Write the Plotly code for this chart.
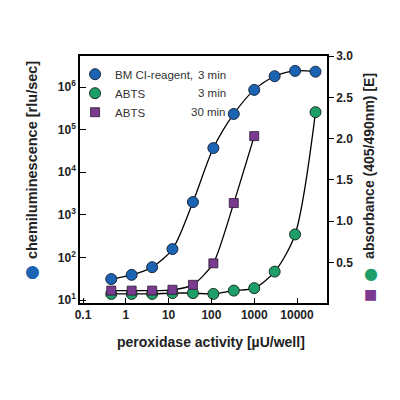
import plotly.graph_objects as go

# peroxidase activity [uU/well], 1:3 dilution series
activity = [0.457, 1.37, 4.12, 12.3, 37, 111, 333, 1000, 3000, 9000, 27000]

bm_cl = [31, 39, 59, 157, 2000, 37000, 234000, 860000, 1.8e6, 2.4e6, 2.3e6]
abts_3 = [0.12, 0.12, 0.12, 0.13, 0.13, 0.12, 0.16, 0.19, 0.39, 0.84, 2.32]
abts_30 = [0.16, 0.16, 0.16, 0.17, 0.23, 0.49, 1.22, 2.03]

x_ticks = [0.1, 1, 10, 100, 1000, 10000]
x_labels = ["0.1", "1", "10", "100", "1000", "10000"]
y_ticks = [10, 100, 1000, 1e4, 1e5, 1e6]
y_labels = ["10<sup>1</sup>", "10<sup>2</sup>", "10<sup>3</sup>",
            "10<sup>4</sup>", "10<sup>5</sup>", "10<sup>6</sup>"]
y2_ticks = [0.5, 1.0, 1.5, 2.0, 2.5, 3.0]

BLUE = "#1b63b3"
GREEN = "#1e9e68"
PURPLE = "#7a3a90"
FONT = "Liberation Sans"

fig = go.Figure()

# curves first so the markers sit on top
fig.add_trace(go.Scatter(x=activity, y=bm_cl, mode="lines", showlegend=False,
                         line=dict(color="black", width=1.3, shape="spline", smoothing=0.8)))
fig.add_trace(go.Scatter(x=activity, y=abts_3, mode="lines", showlegend=False, yaxis="y2",
                         line=dict(color="black", width=1.3, shape="spline", smoothing=0.8)))
fig.add_trace(go.Scatter(x=activity[:len(abts_30)], y=abts_30, mode="lines", showlegend=False,
                         yaxis="y2",
                         line=dict(color="black", width=1.3, shape="spline", smoothing=0.6)))

fig.add_trace(go.Scatter(x=activity, y=bm_cl, mode="markers", name="BM CI-reagent,",
                         marker=dict(color=BLUE, size=11, line=dict(color="#1a2a40", width=1))))
fig.add_trace(go.Scatter(x=activity, y=abts_3, mode="markers", name="ABTS", yaxis="y2",
                         marker=dict(color=GREEN, size=11, line=dict(color="#17301f", width=1))))
fig.add_trace(go.Scatter(x=activity[:len(abts_30)], y=abts_30, mode="markers", name="ABTS",
                         yaxis="y2",
                         marker=dict(color=PURPLE, size=9, symbol="square",
                                     line=dict(color="#2a1a30", width=0.8))))

tickfont = dict(family=FONT, size=12, color="#222222", weight="bold")

# page body has an 8px margin, so the figure is 392 wide and the margins are shifted
fig.update_layout(
    width=392, height=392,
    margin=dict(l=72, r=73, t=48, b=97),
    plot_bgcolor="white", paper_bgcolor="white",
    font=dict(family=FONT, color="#222222"),
    xaxis=dict(type="log", range=[-1.07, 4.7], tickvals=x_ticks, ticktext=x_labels,
               ticks="inside", ticklen=5, tickwidth=1.3, tickcolor="black",
               showline=True, linecolor="black", linewidth=1.5, mirror=True,
               showgrid=False, zeroline=False, tickfont=tickfont),
    yaxis=dict(type="log", range=[0.93, 6.73], tickvals=y_ticks, ticktext=y_labels,
               ticks="inside", ticklen=6, tickwidth=1.3, tickcolor="black",
               showline=True, linecolor="black", linewidth=1.5,
               showgrid=False, zeroline=False, tickfont=tickfont),
    yaxis2=dict(overlaying="y", side="right", range=[0.01, 3.0], tickvals=y2_ticks,
                tickformat=".1f", ticks="outside", ticklen=5, tickwidth=1.3, tickcolor="black",
                showline=True, linecolor="black", linewidth=1.5,
                showgrid=False, zeroline=False, tickfont=tickfont),
    legend=dict(x=-0.02, xanchor="left", y=0.985, yanchor="top",
                bgcolor="rgba(0,0,0,0)", tracegroupgap=0, itemwidth=30,
                font=dict(family=FONT, size=11.5, color="#333333")),
)

# time column of the legend, right aligned
for txt, yy in [("3 min", 0.923), ("3 min", 0.851), ("30 min", 0.774)]:
    fig.add_annotation(xref="paper", yref="paper", x=0.6, y=yy, text=txt,
                       xanchor="right", yanchor="middle", showarrow=False,
                       font=dict(family=FONT, size=11.5, color="#333333"))

fig.add_annotation(xref="paper", yref="paper", x=0.53, y=-0.158,
                   text="<b>peroxidase activity [µU/well]</b>", showarrow=False,
                   xanchor="center", yanchor="middle",
                   font=dict(family=FONT, size=14, color="#222222"))

# axis titles with their symbol keys
fig.add_annotation(xref="paper", yref="paper", x=-0.194, y=0.579, textangle=-90,
                   text="<b>chemiluminescence [rlu/sec]</b>",
                   showarrow=False, xanchor="center", yanchor="middle",
                   font=dict(family=FONT, size=14.5, color="#222222"))
fig.add_annotation(xref="paper", yref="paper", x=-0.194, y=0.13, text="●",
                   showarrow=False, xanchor="center", yanchor="middle",
                   font=dict(family="DejaVu Sans", size=17, color=BLUE))
fig.add_annotation(xref="paper", yref="paper", x=1.17, y=0.555, textangle=-90,
                   text="<b>absorbance (405/490nm) [E]</b>",
                   showarrow=False, xanchor="center", yanchor="middle",
                   font=dict(family=FONT, size=14, color="#222222"))
fig.add_annotation(xref="paper", yref="paper", x=1.178, y=0.118, text="●",
                   showarrow=False, xanchor="center", yanchor="middle",
                   font=dict(family="DejaVu Sans", size=16, color=GREEN))
fig.add_annotation(xref="paper", yref="paper", x=1.178, y=0.035, text="■",
                   showarrow=False, xanchor="center", yanchor="middle",
                   font=dict(family="DejaVu Sans", size=14, color=PURPLE))

fig.write_html("out.html")
